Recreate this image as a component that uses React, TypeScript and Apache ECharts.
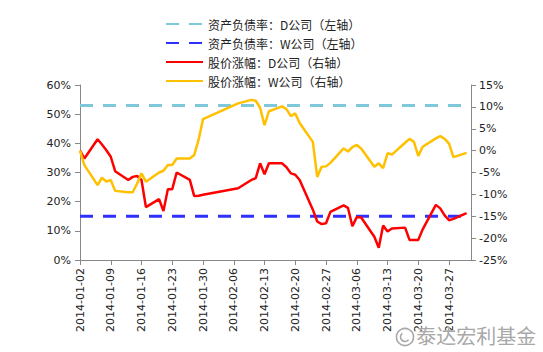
import React, { useEffect, useRef } from "react";
import * as echarts from "echarts";

// Trading days shown in the chart
const tradeDates = [
  "2014-01-02","2014-01-03","2014-01-06","2014-01-07","2014-01-08","2014-01-09","2014-01-10",
  "2014-01-13","2014-01-14","2014-01-15","2014-01-16","2014-01-17","2014-01-20","2014-01-21",
  "2014-01-22","2014-01-23","2014-01-24","2014-01-27","2014-01-28","2014-01-29","2014-01-30",
  "2014-02-07","2014-02-10","2014-02-11","2014-02-12","2014-02-13","2014-02-14","2014-02-17",
  "2014-02-18","2014-02-19","2014-02-20","2014-02-21","2014-02-24","2014-02-25","2014-02-26",
  "2014-02-27","2014-02-28",
  "2014-03-03","2014-03-04","2014-03-05","2014-03-06","2014-03-07","2014-03-10","2014-03-11",
  "2014-03-12","2014-03-13","2014-03-14","2014-03-17","2014-03-18","2014-03-19","2014-03-20",
  "2014-03-21","2014-03-24","2014-03-25","2014-03-26","2014-03-27","2014-03-28","2014-03-31",
];

// 股价涨幅：D公司 (%)
const dPriceChange = [
  0, -1.8, 2.6, 1.4, 0.1, -1.4, -4.7, -6.7, -6.0, -5.8, -6.7, -12.9, -11.1, -13.8, -8.8, -8.8, -5.0, -6.7, -10.4, -10.3, -10.1,
  -8.6, -6.7, -6.3, -2.9, -5.4, -2.9, -2.9, -3.8, -5.2, -5.5, -6.7, -13.5, -16.2, -16.8, -16.6, -14.0,
  -12.5, -13.1, -17.3, -15.2, -15.3, -19.7, -22.2, -17.1, -18.5, -17.8, -17.6, -20.4, -20.4, -20.4, -18.0, -12.4, -13.2, -14.8, -15.9, -15.6, -14.3,
];

// 股价涨幅：W公司 (%)
const wPriceChange = [
  0, -3.3, -7.9, -6.2, -7.1, -6.7, -9.2, -9.5, -9.5, -7.5, -5.2, -7.1, -5.0, -4.6, -3.3, -3.3, -1.8, -1.8, -1.0, 2.5, 7.2,
  10.8, 11.6, 11.4, 9.8, 5.8, 9.0, 10.1, 9.5, 7.9, 8.5, 6.3, 2.0, -6.0, -3.7, -3.6, -2.8,
  0.5, -0.2, 0.8, 1.3, 0.5, -3.7, -2.9, -4.0, -0.6, -0.9, 1.8, 2.7, 2.0, -1.2, 0.9, 2.8, 3.3, 2.7, 1.6, -1.5, -0.5,
];

// 资产负债率 (%)
const dDebtRatio = 53;
const wDebtRatio = 15;

const axisStart = "2014-01-02";
const axisEnd = "2014-04-01";

const leftTicks = { min: 0, max: 60, interval: 10 };
const rightTicks = { min: -25, max: 15, interval: 5 };

const legendNames = [
  "资产负债率：D公司（左轴）",
  "资产负债率：W公司（左轴）",
  "股价涨幅：D公司（右轴）",
  "股价涨幅：W公司（右轴）",
];

function buildCalendar(start: string, end: string): string[] {
  const out: string[] = [];
  const d = new Date(start + "T00:00:00Z");
  const e = new Date(end + "T00:00:00Z");
  while (d.getTime() <= e.getTime()) {
    out.push(d.toISOString().slice(0, 10));
    d.setUTCDate(d.getUTCDate() + 1);
  }
  return out;
}

export default function App() {
  const ref = useRef<HTMLDivElement>(null);
  useEffect(() => {
    if (!ref.current) return;
    const chart = echarts.init(ref.current, null, { renderer: "svg" });
    const days = buildCalendar(axisStart, axisEnd);
    const font = "DejaVu Sans";
    const cjk = "Noto Sans CJK SC";
    chart.setOption({
      animation: false,
      backgroundColor: "#ffffff",
      grid: { left: 80, right: 72, top: 85, bottom: 92, containLabel: false },
      legend: {
        orient: "vertical",
        left: 160,
        top: 13,
        itemWidth: 37,
        itemHeight: 12,
        itemGap: 7,
        itemStyle: { opacity: 0 },
        textStyle: { fontFamily: cjk, fontSize: 12, color: "#222", lineHeight: 12 },
        data: legendNames,
      },
      xAxis: {
        type: "category",
        data: days,
        boundaryGap: false,
        axisLine: { lineStyle: { color: "#888", width: 1 } },
        axisTick: { show: true, interval: 6, length: 5, lineStyle: { color: "#888" } },
        axisLabel: {
          interval: 6,
          rotate: 90,
          margin: 8,
          fontFamily: font,
          fontSize: 11,
          color: "#222",
        },
        splitLine: { show: false },
      },
      yAxis: [
        {
          type: "value",
          min: leftTicks.min,
          max: leftTicks.max,
          interval: leftTicks.interval,
          axisLine: { show: true, lineStyle: { color: "#888" } },
          axisTick: { show: true, length: 5, lineStyle: { color: "#888" } },
          axisLabel: { formatter: "{value}%", fontFamily: font, fontSize: 11, color: "#222", margin: 9 },
          splitLine: { show: false },
        },
        {
          type: "value",
          min: rightTicks.min,
          max: rightTicks.max,
          interval: rightTicks.interval,
          position: "right",
          axisLine: { show: true, lineStyle: { color: "#888" } },
          axisTick: { show: true, length: 5, lineStyle: { color: "#888" } },
          axisLabel: { formatter: "{value}%", fontFamily: font, fontSize: 11, color: "#222", margin: 8 },
          splitLine: { show: false },
        },
      ],
      series: [
        {
          name: legendNames[0],
          type: "line",
          yAxisIndex: 0,
          symbol: "none",
          data: [[axisStart, dDebtRatio], [axisEnd, dDebtRatio]],
          lineStyle: { color: "#7EC8DC", width: 3, type: [13, 10] },
          itemStyle: { color: "#7EC8DC" },
          z: 2,
        },
        {
          name: legendNames[1],
          type: "line",
          yAxisIndex: 0,
          symbol: "none",
          data: [[axisStart, wDebtRatio], [axisEnd, wDebtRatio]],
          lineStyle: { color: "#2F2FFF", width: 3, type: [13, 10] },
          itemStyle: { color: "#2F2FFF" },
          z: 2,
        },
        {
          name: legendNames[2],
          type: "line",
          yAxisIndex: 1,
          symbol: "none",
          data: tradeDates.map((d, i) => [d, dPriceChange[i]]),
          lineStyle: { color: "#FF0000", width: 2.5 },
          itemStyle: { color: "#FF0000" },
          z: 3,
        },
        {
          name: legendNames[3],
          type: "line",
          yAxisIndex: 1,
          symbol: "none",
          data: tradeDates.map((d, i) => [d, wPriceChange[i]]),
          lineStyle: { color: "#FFC000", width: 2.5 },
          itemStyle: { color: "#FFC000" },
          z: 3,
        },
      ],
      graphic: [
        {
          type: "circle",
          shape: { cx: 405, cy: 337, r: 8.5 },
          style: { fill: "none", stroke: "#a8a8a8", lineWidth: 1.6 },
          z: 10,
        },
        {
          type: "arc",
          shape: { cx: 405, cy: 337, r: 4.5, startAngle: Math.PI * 0.2, endAngle: Math.PI * 1.3 },
          style: { fill: "none", stroke: "#a8a8a8", lineWidth: 1.6 },
          z: 10,
        },
        {
          type: "text",
          left: 416,
          top: 325,
          style: {
            text: "泰达宏利基金",
            fontFamily: cjk,
            fontSize: 20,
            fill: "#a8a8a8",
            stroke: "#ffffff",
            lineWidth: 0.5,
          },
          z: 10,
        },
      ],
    });
    return () => chart.dispose();
  }, []);
  return (
    <div
      ref={ref}
      style={{ position: "fixed", left: 0, top: 0, width: 543, height: 352 }}
    />
  );
}
